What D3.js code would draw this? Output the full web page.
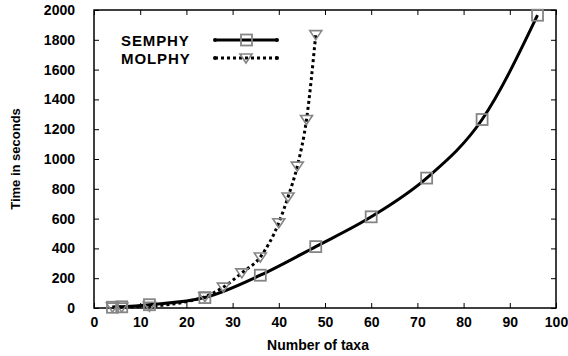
<!DOCTYPE html>
<html>
<head>
<meta charset="utf-8">
<script src="https://cdn.jsdelivr.net/npm/d3@7"></script>
<style>
  body { margin: 0; background: #fff; }
  text { font-family: "Liberation Sans", Arial, sans-serif; font-weight: bold; fill: #000; }
</style>
</head>
<body>
<div id="chart"></div>
<script>
// Data
const semphyTaxa = [4, 6, 12, 24, 36, 48, 60, 72, 84, 96];
const semphyTime = [5, 8, 22, 70, 220, 412, 612, 872, 1265, 1965];
const molphyTaxa = [4, 6, 12, 24, 28, 32, 36, 40, 42, 44, 46, 48];
const molphyTime = [6, 6, 12, 76, 140, 236, 342, 572, 745, 952, 1265, 1835];
const xTicks = [0, 10, 20, 30, 40, 50, 60, 70, 80, 90, 100];
const yTicks = [0, 200, 400, 600, 800, 1000, 1200, 1400, 1600, 1800, 2000];

const width = 568;
const height = 356;
const margin = { top: 10, right: 12, bottom: 48, left: 94 };

const svg = d3.select("#chart")
  .append("svg")
  .attr("width", width)
  .attr("height", height);

const x = d3.scaleLinear()
  .domain([0, 100])
  .range([margin.left, width - margin.right]);

const y = d3.scaleLinear()
  .domain([0, 2000])
  .range([height - margin.bottom, margin.top]);

// Inward ticks on all four sides
const tickLen = 5;
const axisStyle = (g) => {
  g.select(".domain").remove();
  g.selectAll(".tick line").attr("stroke", "#000").attr("stroke-width", 1);
};

svg.append("g")
  .attr("transform", `translate(0, ${y(0)})`)
  .call(d3.axisBottom(x).tickValues(xTicks).tickSize(-tickLen).tickPadding(9).tickFormat(d3.format("d")))
  .call(axisStyle)
  .call(g => g.selectAll("text").attr("font-size", 14));

svg.append("g")
  .attr("transform", `translate(0, ${y(2000)})`)
  .call(d3.axisTop(x).tickValues(xTicks).tickSize(-tickLen).tickFormat(""))
  .call(axisStyle);

svg.append("g")
  .attr("transform", `translate(${x(0)}, 0)`)
  .call(d3.axisLeft(y).tickValues(yTicks).tickSize(-tickLen).tickPadding(19).tickFormat(d3.format("d")))
  .call(axisStyle)
  .call(g => g.selectAll("text").attr("font-size", 14));

svg.append("g")
  .attr("transform", `translate(${x(100)}, 0)`)
  .call(d3.axisRight(y).tickValues(yTicks).tickSize(-tickLen).tickFormat(""))
  .call(axisStyle);

// Frame
svg.append("rect")
  .attr("x", x(0))
  .attr("y", y(2000))
  .attr("width", x(100) - x(0))
  .attr("height", y(0) - y(2000))
  .attr("fill", "none")
  .attr("stroke", "#000")
  .attr("stroke-width", 1.5);

// Axis titles
svg.append("text")
  .attr("x", 318)
  .attr("y", 350)
  .attr("text-anchor", "middle")
  .attr("font-size", 14)
  .text("Number of taxa");

svg.append("text")
  .attr("transform", "rotate(-90)")
  .attr("x", -(y(0) + y(2000)) / 2)
  .attr("y", 20)
  .attr("text-anchor", "middle")
  .attr("font-size", 13)
  .text("Time in seconds");

const line = d3.line()
  .x(d => x(d[0]))
  .y(d => y(d[1]))
  .curve(d3.curveMonotoneX);

const semphy = semphyTaxa.map((t, i) => [t, semphyTime[i]]);
const molphy = molphyTaxa.map((t, i) => [t, molphyTime[i]]);

svg.append("path")
  .datum(molphy)
  .attr("d", line)
  .attr("fill", "none")
  .attr("stroke", "#000")
  .attr("stroke-width", 3)
  .attr("stroke-dasharray", "3,3");

svg.append("path")
  .datum(semphy)
  .attr("d", line)
  .attr("fill", "none")
  .attr("stroke", "#000")
  .attr("stroke-width", 3);

// Markers
const grey = "#858585";
const triangle = (cx, cy) => `M${cx - 6},${cy - 4}L${cx + 6},${cy - 4}L${cx},${cy + 5}Z`;

svg.append("g")
  .selectAll("path")
  .data(molphy)
  .enter()
  .append("path")
  .attr("d", d => triangle(x(d[0]), y(d[1])))
  .attr("fill", "none")
  .attr("stroke", grey)
  .attr("stroke-width", 1.6);

svg.append("g")
  .selectAll("rect")
  .data(semphy)
  .enter()
  .append("rect")
  .attr("x", d => x(d[0]) - 5.5)
  .attr("y", d => y(d[1]) - 5.5)
  .attr("width", 11)
  .attr("height", 11)
  .attr("fill", "none")
  .attr("stroke", grey)
  .attr("stroke-width", 1.8);

// Legend
const legend = svg.append("g");
const legendRows = [
  { name: "SEMPHY", y: 40, dash: null },
  { name: "MOLPHY", y: 58, dash: "3,3" }
];

legendRows.forEach((row, i) => {
  legend.append("text")
    .attr("x", 121)
    .attr("y", row.y + 6)
    .attr("font-size", 15)
    .attr("letter-spacing", 0.9)
    .text(row.name);

  legend.append("line")
    .attr("x1", 215)
    .attr("x2", 277)
    .attr("y1", row.y)
    .attr("y2", row.y)
    .attr("stroke", "#000")
    .attr("stroke-width", 3)
    .attr("stroke-dasharray", row.dash);

  [215, 277].forEach(px => {
    legend.append("circle")
      .attr("cx", px)
      .attr("cy", row.y)
      .attr("r", 2)
      .attr("fill", "#000");
  });

  if (i === 0) {
    legend.append("rect")
      .attr("x", 241)
      .attr("y", row.y - 5.5)
      .attr("width", 11)
      .attr("height", 11)
      .attr("fill", "none")
      .attr("stroke", grey)
      .attr("stroke-width", 1.8);
  } else {
    legend.append("path")
      .attr("d", triangle(246, row.y))
      .attr("fill", "none")
      .attr("stroke", grey)
      .attr("stroke-width", 1.6);
  }
});
</script>
</body>
</html>
